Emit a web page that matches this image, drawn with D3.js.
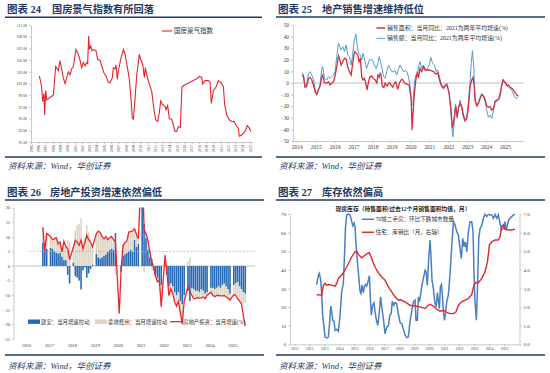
<!DOCTYPE html>
<html><head><meta charset="utf-8">
<script src="https://cdn.jsdelivr.net/npm/d3@7"></script>
<style>body{margin:0;background:#fff}svg{display:block}</style>
</head><body>
<svg id="c" width="550" height="373"></svg>
<script>
// ---------- Panel 24: 国房景气指数 ----------
const climateYears = [1995,1996,1997,1998,1999,2000,2001,2002,2003,2004,2005,2006,2007,2008,2009,2010,2011,2012,2013,2014,2015,2016,2017,2018,2019,2020,2021,2022,2023,2024,2025];
const climateTicks = [91,93,95,97,99,101,103,105,107,109,111];
const climateIndex = [[1996.14,102.3],[1996.32,101.3],[1996.46,100.4],[1996.60,97.9],[1996.78,99.3],[1996.87,95.6],[1997.01,99.8],[1997.15,98.2],[1997.60,98.6],[1998.06,99.0],[1998.38,103.9],[1998.74,103.2],[1998.97,104.9],[1999.20,103.5],[1999.43,101.9],[1999.66,101.0],[1999.89,102.0],[2000.11,103.0],[2000.34,102.5],[2000.57,103.5],[2000.80,103.9],[2001.16,106.8],[2001.48,106.0],[2001.71,105.0],[2001.94,103.7],[2002.17,104.6],[2002.40,104.0],[2002.63,104.6],[2002.76,104.4],[2002.90,109.1],[2003.00,106.8],[2003.17,107.4],[2003.36,106.6],[2003.63,106.8],[2003.90,106.6],[2004.13,105.1],[2004.45,105.0],[2004.68,104.0],[2005.00,102.8],[2005.27,102.3],[2005.59,101.2],[2005.82,101.1],[2006.14,102.0],[2006.28,103.7],[2006.51,103.5],[2006.64,104.2],[2006.83,101.7],[2006.96,103.1],[2007.28,105.1],[2007.65,106.8],[2007.88,106.0],[2008.24,103.5],[2008.47,101.7],[2008.70,98.3],[2008.88,95.1],[2009.02,94.9],[2009.25,98.3],[2009.47,102.3],[2009.84,106.0],[2010.02,105.1],[2010.30,104.3],[2010.53,102.0],[2010.66,103.7],[2010.84,102.5],[2011.16,101.1],[2011.53,99.7],[2011.85,96.5],[2012.08,94.8],[2012.35,94.5],[2012.58,96.0],[2012.76,98.0],[2013.04,97.4],[2013.36,97.1],[2013.49,96.5],[2013.72,97.2],[2013.95,95.0],[2014.27,94.9],[2014.50,93.9],[2014.73,92.8],[2014.95,92.8],[2015.18,93.6],[2015.46,93.5],[2015.68,100.4],[2015.96,100.7],[2016.32,100.9],[2016.78,101.2],[2017.24,101.5],[2017.69,101.8],[2018.06,102.2],[2018.38,102.0],[2018.52,100.9],[2018.84,101.5],[2019.29,101.5],[2019.52,101.2],[2019.70,97.6],[2019.98,99.8],[2020.35,100.4],[2020.66,101.5],[2020.98,101.2],[2021.35,100.5],[2021.53,97.4],[2021.81,95.6],[2022.17,94.8],[2022.49,94.5],[2022.81,94.5],[2023.08,93.9],[2023.40,93.3],[2023.54,92.0],[2023.86,92.2],[2024.18,92.6],[2024.41,93.0],[2024.63,93.8],[2024.91,93.4],[2025.14,92.8]];

// ---------- Panel 25: 销售增速 ----------
const salesYears = [2014,2015,2016,2017,2018,2019,2020,2021,2022,2023,2024,2025];
const salesTicks = [-50,-40,-30,-20,-10,0,10,20,30,40,50];
const salesArea = [[2014.26,6.9],[2014.35,5.5],[2014.44,-3.7],[2014.53,-2.6],[2014.62,4],[2014.70,4.9],[2014.79,2.6],[2014.88,-1.7],[2014.97,-7.5],[2015.06,-9.8],[2015.14,-6],[2015.23,-2.6],[2015.32,5.5],[2015.37,6.9],[2015.46,0.3],[2015.58,0],[2015.67,1.1],[2015.76,-1.7],[2015.85,0],[2015.94,1.1],[2016.02,6],[2016.11,14],[2016.20,23.3],[2016.25,21.3],[2016.34,15.5],[2016.43,18.4],[2016.52,21.3],[2016.61,20.4],[2016.69,14],[2016.78,9.8],[2016.87,6.9],[2016.94,15.5],[2017.05,27],[2017.13,26],[2017.22,24],[2017.29,18.4],[2017.36,21.3],[2017.43,4.9],[2017.50,2.6],[2017.57,4],[2017.64,0.3],[2017.71,-6],[2017.79,1.1],[2017.87,5.5],[2017.96,6],[2018.05,4],[2018.14,2.6],[2018.23,0],[2018.28,6.9],[2018.35,4.9],[2018.40,8.3],[2018.45,6.9],[2018.52,-3.2],[2018.60,-3.7],[2018.67,0],[2018.77,-2.6],[2018.88,0.3],[2018.98,-1.7],[2019.07,-3.7],[2019.16,0],[2019.23,1.1],[2019.33,-5.5],[2019.42,0],[2019.51,2.6],[2019.58,3.2],[2019.69,0],[2019.81,-0.9],[2019.93,-1.7],[2020.04,-13.2],[2020.09,-40.5],[2020.14,-26],[2020.21,-8.9],[2020.29,3.2],[2020.36,8.9],[2020.43,5.5],[2020.51,12.6],[2020.60,9.8],[2020.69,14],[2020.78,11.2],[2020.87,11.2],[2020.99,11.2],[2021.09,10.6],[2021.22,9.8],[2021.34,7.8],[2021.45,8.6],[2021.54,2.6],[2021.62,-1.7],[2021.73,-4.6],[2021.83,-2.6],[2021.92,-1.7],[2021.98,-4.6],[2022.05,-9.5],[2022.15,-23.3],[2022.22,-39],[2022.31,-30.5],[2022.40,-19.8],[2022.47,-29],[2022.54,-21.8],[2022.63,-17.5],[2022.71,-20.4],[2022.80,-27.6],[2022.89,-32.5],[2022.98,-30.5],[2023.07,-20.4],[2023.15,-3.2],[2023.24,2.6],[2023.31,4.9],[2023.37,-3.2],[2023.42,-14.7],[2023.51,-19.8],[2023.60,-17.5],[2023.68,-13.2],[2023.77,-10.3],[2023.86,-11.2],[2023.95,-14.7],[2024.03,-19.8],[2024.12,-21],[2024.21,-20.4],[2024.30,-23.3],[2024.39,-21.8],[2024.48,-16.1],[2024.56,-14.7],[2024.65,-14.1],[2024.74,-8.9],[2024.83,-1.7],[2024.90,2.6],[2024.96,1.1],[2025.04,0],[2025.11,-2.6],[2025.18,-1.7],[2025.27,-3.7],[2025.36,-4.6],[2025.44,-6],[2025.53,-8.3],[2025.62,-10.3],[2025.71,-11.2]];
const salesAmount = [[2014.26,8.9],[2014.35,7.8],[2014.44,-3.7],[2014.53,0],[2014.62,8.3],[2014.70,9.8],[2014.79,6.9],[2014.88,2.6],[2014.97,-5.5],[2015.06,-10.3],[2015.14,-5.5],[2015.23,-1.7],[2015.32,12.6],[2015.37,14],[2015.46,4],[2015.58,2.6],[2015.67,5.5],[2015.76,4],[2015.85,5.5],[2015.94,6.9],[2016.02,9.8],[2016.11,22.7],[2016.20,34.2],[2016.25,32.8],[2016.34,28.4],[2016.43,31.3],[2016.52,27],[2016.61,32.8],[2016.69,24.1],[2016.78,22.7],[2016.87,15.5],[2016.94,22.7],[2017.01,34.2],[2017.12,42.2],[2017.19,32.8],[2017.26,25.6],[2017.35,24.1],[2017.43,19.8],[2017.50,25.6],[2017.61,18.4],[2017.68,12.6],[2017.75,15.5],[2017.84,20.4],[2017.93,19.8],[2018.01,19.8],[2018.10,15.5],[2018.19,12.6],[2018.26,15.5],[2018.35,22.7],[2018.42,18.4],[2018.49,14],[2018.58,5.5],[2018.67,4],[2018.75,9.8],[2018.84,15.5],[2018.93,12.6],[2019.02,9.8],[2019.11,9.8],[2019.19,10.6],[2019.28,6.9],[2019.37,11.8],[2019.46,15.5],[2019.55,12.6],[2019.63,9.8],[2019.72,10.6],[2019.81,9.8],[2019.90,5.5],[2019.99,-3.2],[2020.07,-19],[2020.14,-17.5],[2020.21,0],[2020.29,6.9],[2020.36,5.5],[2020.43,14],[2020.51,18.4],[2020.60,12.6],[2020.69,15.5],[2020.78,12.6],[2020.87,11.2],[2020.99,15.5],[2021.08,22.1],[2021.17,17],[2021.27,15.5],[2021.36,9.8],[2021.45,11.2],[2021.54,4.9],[2021.62,0],[2021.73,-3.7],[2021.83,-1.7],[2021.92,0],[2021.98,-3.7],[2022.05,-8.9],[2022.15,-29],[2022.24,-46.3],[2022.31,-35.3],[2022.38,-18.1],[2022.47,-30.5],[2022.54,-21],[2022.63,-14.7],[2022.71,-21.8],[2022.80,-30.5],[2022.89,-32.5],[2022.98,-29],[2023.07,-14.7],[2023.14,-1.7],[2023.21,17],[2023.28,27.9],[2023.35,12.6],[2023.42,-16.1],[2023.51,-19],[2023.60,-16.1],[2023.68,-12.4],[2023.77,-8.9],[2023.86,-11.2],[2023.95,-16.1],[2024.03,-23.3],[2024.12,-29.6],[2024.21,-27.6],[2024.30,-30.5],[2024.39,-23.3],[2024.48,-14.7],[2024.56,-16.1],[2024.65,-14.7],[2024.74,-11.8],[2024.83,-1.7],[2024.90,3.2],[2024.96,1.1],[2025.04,-1.7],[2025.11,-2.6],[2025.18,-3.7],[2025.27,-4.6],[2025.36,-6.6],[2025.44,-9.5],[2025.53,-12.4],[2025.62,-13.2],[2025.71,-11.8]];

// ---------- Panel 26: 房地产投资 ----------
const invYears = [2016,2017,2018,2019,2020,2021,2022,2023,2024,2025];
const invTicks = [-25,-20,-15,-10,-5,0,5,10,15,20];
const invMonths = ["2016-10","2016-11","2016-12",
"2017-02","2017-03","2017-04","2017-05","2017-06","2017-07","2017-08","2017-09","2017-10","2017-11","2017-12",
"2018-02","2018-03","2018-04","2018-05","2018-06","2018-07","2018-08","2018-09","2018-10","2018-11","2018-12",
"2019-02","2019-03","2019-04","2019-05","2019-06","2019-07","2019-08","2019-09","2019-10","2019-11","2019-12",
"2020-02","2020-03","2020-04","2020-05","2020-06","2020-07","2020-08","2020-09","2020-10","2020-11","2020-12",
"2021-02","2021-03","2021-04","2021-05","2021-06","2021-07","2021-08","2021-09","2021-10","2021-11","2021-12",
"2022-02","2022-03","2022-04","2022-05","2022-06","2022-07","2022-08","2022-09","2022-10","2022-11","2022-12",
"2023-02","2023-03","2023-04","2023-05","2023-06","2023-07","2023-08","2023-09","2023-10","2023-11","2023-12",
"2024-02","2024-03","2024-04","2024-05","2024-06","2024-07","2024-08","2024-09","2024-10","2024-11","2024-12",
"2025-02","2025-03","2025-04","2025-05","2025-06","2025-07","2025-08"];
const invBuild = [7.9,5.4,5.8,
6.2,6.0,5.2,4.6,4.3,4.5,3.2,2.0,2.0,-3.0,-6.0,
1.2,-3.5,-4.0,-5.0,-8.0,-1.5,-0.5,-4.0,-2.5,-1.0,0.5,
4.2,3.0,2.6,3.0,3.5,4.0,4.8,5.5,6.0,5.5,11.3,
0,-2.0,3.5,4.0,4.5,5.0,5.5,5.0,9.0,6.5,7.5,
25.0,14.5,9.5,5.5,3.0,2.5,-1.5,-3.0,-4.0,-5.0,-6.5,
0.5,-3.0,-7.0,-6.0,-7.0,-9.0,-10.0,-9.0,-12.0,-13.0,-10.0,
-8.5,-12.0,-7.5,-8.0,-8.5,-8.5,-9.0,-8.0,-8.5,-9.5,-9.0,
-7.5,-7.5,-8.0,-7.5,-7.0,-7.5,-6.5,-6.0,-7.0,-8.0,-9.5,
-6.5,-6.0,-5.5,-7.0,-8.0,-9.0,-9.5];
const invLand = [5.4,-0.3,5.3,
3.9,3.0,4.1,5.1,3.3,3.7,1.6,6.5,4.7,8.9,8.2,
5.3,12.3,14.0,14.5,16.5,9.0,10.0,14.0,11.5,9.2,6.0,
6.9,8.9,9.0,7.1,5.8,6.1,4.2,4.2,4.1,3.5,-3.0,
0,0.9,3.5,4.1,4.0,6.7,6.3,7.0,3.7,4.4,1.8,
13.3,-2.0,1.6,3.3,2.0,-1.0,1.0,-0.5,-1.4,0,-7.4,
3.2,0.6,-3.1,-1.8,-2.4,-3.3,-3.8,-3.1,-4.0,-6.9,-2.2,
1.5,3.1,-2.5,-3.2,-2.7,-2.3,-2.0,-2.9,-2.1,-1.7,-1.0,
-1.5,-2.5,-2.5,-2.6,-3.1,-2.7,-3.7,-4.1,-3.6,-3.0,-2.2,
-3.3,-4.0,-5.8,-5.0,-4.9,-4.0,-3.0];
const invTotal = [13.3,5.1,11.1,
10.1,9.0,9.3,9.7,7.6,8.2,4.8,8.5,6.7,5.9,2.2,
6.5,8.8,8.2,7.1,8.8,5.9,7.9,10.5,9.0,8.2,6.5,
11.1,11.9,11.6,10.1,9.3,10.1,9.0,9.7,10.1,9.0,8.3,
-16.3,-1.1,7.0,8.1,8.5,11.7,11.8,12.0,12.7,10.9,9.3,
38.3,12.5,11.1,8.8,5.0,1.5,-0.5,-3.5,-5.4,-5.0,-13.9,
3.7,-2.4,-10.1,-7.8,-9.4,-12.3,-13.8,-12.1,-16.0,-19.9,-12.2,
-7.0,-8.9,-10.0,-11.2,-11.2,-10.8,-11.0,-10.9,-10.6,-11.2,-10.0,
-9.0,-10.0,-10.5,-10.1,-10.1,-10.2,-10.2,-10.1,-10.6,-11.0,-11.7,
-9.8,-10.0,-11.3,-12.0,-12.9,-17.0,-20.5];
const invReference = 5;

// ---------- Panel 27: 库存 ----------
const stockYears = [2011,2012,2013,2014,2015,2016,2017,2018,2019,2020,2021,2022,2023,2024,2025];
const stockLeftTicks = [0,10,20,30,40,50,60,70];
const stockRightTicks = [0,1,2,3,4,5,6,7];
const citiesDown = [[2012.49,32.1],[2012.60,36.8],[2012.67,38.1],[2012.76,34.5],[2012.83,26.4],[2012.89,15.6],[2012.98,9.3],[2013.05,3.9],[2013.16,3.4],[2013.27,3.9],[2013.34,10.2],[2013.43,20.5],[2013.49,17.8],[2013.56,12.9],[2013.65,12.4],[2013.72,7.5],[2013.83,8.1],[2013.94,7.0],[2014.05,15.6],[2014.16,28.2],[2014.27,32.7],[2014.34,46.1],[2014.41,62.3],[2014.50,69.5],[2014.61,70],[2014.72,69.5],[2014.83,65.9],[2014.90,63.7],[2014.99,65.0],[2015.05,63.2],[2015.12,53.3],[2015.21,44.3],[2015.30,36.3],[2015.39,28.2],[2015.45,27.3],[2015.52,31.8],[2015.61,27.8],[2015.67,30.9],[2015.76,32.1],[2015.83,31.4],[2015.94,34.5],[2016.01,36.8],[2016.07,25.5],[2016.14,15.6],[2016.23,21.0],[2016.32,22.3],[2016.39,17.4],[2016.48,12.9],[2016.57,10.2],[2016.65,15.6],[2016.76,25.5],[2016.85,19.2],[2016.97,12.0],[2017.05,5.7],[2017.17,9.3],[2017.28,9.9],[2017.37,15.6],[2017.46,16.5],[2017.54,23.2],[2017.63,21.0],[2017.72,22.4],[2017.83,21.9],[2017.95,16.0],[2018.06,11.7],[2018.17,11.1],[2018.28,8.0],[2018.39,5.0],[2018.50,3.6],[2018.61,3.9],[2018.72,12.0],[2018.83,17.4],[2018.95,22.8],[2019.06,23.7],[2019.12,12.9],[2019.21,12.9],[2019.28,25.5],[2019.35,22.8],[2019.44,27.3],[2019.52,31.8],[2019.61,35.4],[2019.73,39.8],[2019.79,39.0],[2019.88,31.8],[2019.97,46.1],[2020.06,56.0],[2020.13,46.1],[2020.19,34.5],[2020.28,30.0],[2020.37,22.8],[2020.46,20.1],[2020.55,27.8],[2020.62,22.8],[2020.68,19.2],[2020.75,30.9],[2020.82,32.1],[2020.88,26.4],[2020.95,17.4],[2021.02,12.9],[2021.10,17.4],[2021.17,22.8],[2021.28,26.4],[2021.39,37.2],[2021.51,53.3],[2021.62,65.9],[2021.73,64.1],[2021.84,60.5],[2021.95,58.7],[2022.06,51.5],[2022.15,46.1],[2022.24,56.9],[2022.33,52.4],[2022.42,55.1],[2022.51,49.7],[2022.62,60.5],[2022.73,65.9],[2022.84,65.9],[2022.93,60.5],[2022.99,39.0],[2023.06,22.8],[2023.15,12.9],[2023.22,28.2],[2023.31,56.9],[2023.40,62.3],[2023.51,63.7],[2023.62,67.7],[2023.73,69.8],[2023.84,68.6],[2023.95,69.8],[2024.06,69.5],[2024.18,69.5],[2024.29,67.7],[2024.40,69.8],[2024.51,67.7],[2024.62,69.5],[2024.73,65.0],[2024.84,61.4],[2024.95,62.3],[2025.06,65.9],[2025.13,61.4],[2025.22,64.1],[2025.31,66.8],[2025.40,67.7],[2025.51,68.6],[2025.62,69.5],[2025.73,69.8]];
const stockRatio = [[2012.49,2.64],[2012.67,2.67],[2012.83,2.64],[2012.94,3.18],[2013.05,3.27],[2013.16,3.18],[2013.27,3.21],[2013.49,3.18],[2013.72,3.12],[2013.83,3.27],[2013.94,3.54],[2014.16,3.72],[2014.38,3.98],[2014.61,4.34],[2014.83,4.70],[2015.05,4.97],[2015.16,5.01],[2015.27,4.83],[2015.50,4.65],[2015.67,4.76],[2015.90,4.88],[2016.01,4.92],[2016.12,4.70],[2016.28,4.34],[2016.50,3.98],[2016.72,3.72],[2016.94,3.54],[2017.05,3.45],[2017.28,3.09],[2017.50,2.82],[2017.72,2.55],[2017.95,2.37],[2018.06,2.40],[2018.39,2.28],[2018.72,2.10],[2019.06,2.06],[2019.39,2.01],[2019.73,1.92],[2019.95,2.10],[2020.06,2.15],[2020.28,2.06],[2020.50,1.88],[2020.73,1.78],[2020.95,1.83],[2021.17,1.71],[2021.39,1.65],[2021.62,1.65],[2021.79,1.74],[2021.95,2.10],[2022.17,2.28],[2022.40,2.37],[2022.62,2.46],[2022.84,2.67],[2022.99,3.18],[2023.13,3.32],[2023.29,3.32],[2023.51,3.54],[2023.73,3.90],[2023.89,4.43],[2024.02,5.33],[2024.18,5.51],[2024.40,5.60],[2024.62,5.60],[2024.73,5.78],[2024.84,6.32],[2024.95,6.41],[2025.06,6.19],[2025.29,6.14],[2025.51,6.14],[2025.73,6.19]];

// ---------- drawing ----------
const svg = d3.select('#c');
const CJK = '"Noto Sans CJK SC", sans-serif';
const SERIF = '"Liberation Serif", "Noto Sans CJK SC", serif';
const NAVY = '#1f3864';
const AX = '#a6a6a6';
const TXT = '#404040';

function header(x0, x1, yBase, yRule, num, title, titleX) {
  svg.append('text').attr('x', x0 + 2).attr('y', yBase)
    .attr('font-family', SERIF).attr('font-weight', 'bold').attr('font-size', 10.5)
    .attr('fill', NAVY).text('图表 ' + num);
  svg.append('text').attr('x', titleX).attr('y', yBase)
    .attr('font-family', CJK).attr('font-weight', 'bold').attr('font-size', 10.2)
    .attr('fill', NAVY).text(title);
  svg.append('line').attr('x1', x0).attr('x2', x1).attr('y1', yRule).attr('y2', yRule)
    .attr('stroke', NAVY).attr('stroke-width', 1.4);
}
function footer(x0, x1, yRule, yBase) {
  svg.append('line').attr('x1', x0).attr('x2', x1).attr('y1', yRule).attr('y2', yRule)
    .attr('stroke', NAVY).attr('stroke-width', 1.4);
  svg.append('text').attr('x', x0 + 3).attr('y', yBase)
    .attr('font-family', SERIF).attr('font-style', 'italic').attr('font-size', 8.5)
    .attr('fill', NAVY).text('资料来源：Wind，华创证券');
}
function styleAxis(g, size) {
  g.attr('font-size', size).attr('font-family', SERIF);
  g.selectAll('text').attr('fill', TXT);
  g.selectAll('line').attr('stroke', AX).attr('stroke-width', 0.6);
  g.select('.domain').attr('stroke', AX).attr('stroke-width', 0.6);
}

// Panel 24
header(5, 262, 13, 17.3, '24', '国房景气指数有所回落', 52);
footer(5, 262, 157, 168.5);
{
  const x = d3.scaleLinear().domain([1995, 2025.41]).range([31, 253]);
  const y = d3.scaleLinear().domain([91, 111]).range([142, 25]);
  const gy = svg.append('g').attr('transform', 'translate(31,0)')
    .call(d3.axisLeft(y).tickValues(climateTicks).tickFormat(d3.format('.2f')).tickSize(2).tickSizeOuter(0).tickPadding(2));
  styleAxis(gy, 3.8);
  const gx = svg.append('g').attr('transform', 'translate(0,142)')
    .call(d3.axisBottom(x).tickValues(climateYears).tickFormat(d3.format('d')).tickSize(2).tickSizeOuter(0));
  styleAxis(gx, 3.6);
  gx.selectAll('text').attr('transform', 'rotate(-90)').attr('text-anchor', 'end')
    .attr('x', -3).attr('y', 0).attr('dy', '0.35em');
  svg.append('path').datum(climateIndex)
    .attr('d', d3.line().x(d => x(d[0])).y(d => y(d[1])))
    .attr('fill', 'none').attr('stroke', '#e3262b').attr('stroke-width', 1.1);
  svg.append('line').attr('x1', 162).attr('x2', 172).attr('y1', 31).attr('y2', 31)
    .attr('stroke', '#e3262b').attr('stroke-width', 1.1);
  svg.append('text').attr('x', 174).attr('y', 33.2).attr('font-family', CJK).attr('font-size', 6.5)
    .attr('fill', '#333').text('国房景气指数');
}

// Panel 25
header(276, 545, 13, 17, '25', '地产销售增速维持低位', 322);
footer(276, 545, 157, 168.5);
{
  const x = d3.scaleLinear().domain([2013.8, 2026.0]).range([293, 524]);
  const y = d3.scaleLinear().domain([-50, 50]).range([141, 25]);
  const gy = svg.append('g').attr('transform', 'translate(293,0)')
    .call(d3.axisLeft(y).tickValues(salesTicks).tickSize(2).tickSizeOuter(0).tickPadding(2));
  styleAxis(gy, 5.3);
  const gx = svg.append('g').attr('transform', 'translate(0,141)')
    .call(d3.axisBottom(x).tickValues(salesYears).tickFormat(d3.format('d')).tickSize(2).tickSizeOuter(0).tickPadding(2));
  styleAxis(gx, 5.5);
  svg.append('line').attr('x1', 293).attr('x2', 524).attr('y1', y(0)).attr('y2', y(0))
    .attr('stroke', AX).attr('stroke-width', 0.7);
  const line = d3.line().x(d => x(d[0])).y(d => y(d[1]));
  svg.append('path').datum(salesAmount).attr('d', line)
    .attr('fill', 'none').attr('stroke', '#4d9fd3').attr('stroke-width', 1.0);
  svg.append('path').datum(salesArea).attr('d', line)
    .attr('fill', 'none').attr('stroke', '#d42f3c').attr('stroke-width', 1.3);
  const leg = [['#d42f3c', 1.5, 28, '销售面积：当月同比：2021为两年平均增速(%)'],
               ['#4d9fd3', 1.0, 38.3, '销售额：当月同比：2021为两年平均增速(%)']];
  leg.forEach(([c, w, yy, t]) => {
    svg.append('line').attr('x1', 376.5).attr('x2', 385).attr('y1', yy).attr('y2', yy)
      .attr('stroke', c).attr('stroke-width', w);
    svg.append('text').attr('x', 387).attr('y', yy + 2.1).attr('font-family', SERIF)
      .attr('font-size', 5.9).attr('fill', '#333').text(t);
  });
}

// Panel 26
header(5, 264, 195.5, 200, '26', '房地产投资增速依然偏低', 50);
footer(5, 264, 355, 368.5);
{
  const x = d3.scaleLinear().domain([2015.51, 2026.05]).range([13.5, 255]);
  const y = d3.scaleLinear().domain([-25, 20]).range([339, 207.6]);
  svg.append('defs').append('clipPath').attr('id', 'clip26').append('rect')
    .attr('x', 13.5).attr('y', 207.6).attr('width', 241.5).attr('height', 131.4);
  const gy = svg.append('g').attr('transform', 'translate(13.5,0)')
    .call(d3.axisLeft(y).tickValues(invTicks).tickSize(2).tickSizeOuter(0).tickPadding(1.5));
  styleAxis(gy, 4.3);
  svg.append('g').selectAll('text').data(invYears).join('text')
    .attr('x', d => x(d) + 2).attr('y', 346.6).attr('text-anchor', 'middle')
    .attr('font-family', SERIF).attr('font-size', 4.6).attr('fill', TXT).text(d => d);
  const dec = s => { const [a, b] = s.split('-').map(Number); return a + (b - 1) / 12 + 1 / 24; };
  const rows = invMonths.map((m, i) => ({ t: dec(m), build: invBuild[i], land: invLand[i], total: invTotal[i] }));
  const stack = d3.stack().keys(['build', 'land']).offset(d3.stackOffsetDiverging)(rows);
  const colors = { build: '#2468b6', land: '#dcd5c4' };
  const bw = (x(2017) - x(2016)) / 12 * 0.82;
  const plot = svg.append('g').attr('clip-path', 'url(#clip26)');
  plot.append('line').attr('x1', 13.5).attr('x2', 255).attr('y1', y(0)).attr('y2', y(0))
    .attr('stroke', AX).attr('stroke-width', 0.7);
  stack.forEach(s => {
    plot.append('g').attr('fill', colors[s.key]).selectAll('rect').data(s).join('rect')
      .attr('x', d => x(d.data.t) - bw / 2).attr('width', bw)
      .attr('y', d => y(Math.max(d[0], d[1])))
      .attr('height', d => Math.abs(y(d[0]) - y(d[1])));
  });
  plot.append('line').attr('x1', x(2016.2)).attr('x2', 255).attr('y1', y(invReference)).attr('y2', y(invReference))
    .attr('stroke', '#f0b43c').attr('stroke-width', 0.8).attr('stroke-dasharray', '2,1.5');
  plot.append('path').datum(rows)
    .attr('d', d3.line().x(d => x(d.t)).y(d => y(d.total)))
    .attr('fill', 'none').attr('stroke', '#e8262d').attr('stroke-width', 1.3);
  const ly = 321.7;
  svg.append('rect').attr('x', 28).attr('y', ly - 2.2).attr('width', 12).attr('height', 4.4).attr('fill', colors.build);
  svg.append('rect').attr('x', 95).attr('y', ly - 2.2).attr('width', 12).attr('height', 4.4).attr('fill', colors.land);
  svg.append('line').attr('x1', 170).attr('x2', 182).attr('y1', ly).attr('y2', ly).attr('stroke', '#e8262d').attr('stroke-width', 1.3);
  [[41, '建安：当月增速拉动'], [108, '拿地费用：当月增速拉动'], [183, '房地产投资：当月增速(%)']].forEach(([xx, t]) => {
    svg.append('text').attr('x', xx).attr('y', ly + 2).attr('font-family', SERIF)
      .attr('font-size', 5.4).attr('fill', '#333').text(t);
  });
}

// Panel 27
header(276, 545, 195.5, 200, '27', '库存依然偏高', 322);
footer(276, 545, 355, 368.5);
{
  const x = d3.scaleLinear().domain([2010.71, 2026.03]).range([290, 519.5]);
  const yl = d3.scaleLinear().domain([0, 70]).range([344.3, 214]);
  const yr = d3.scaleLinear().domain([0, 7]).range([344.3, 214]);
  const gl = svg.append('g').attr('transform', 'translate(290,0)')
    .call(d3.axisLeft(yl).tickValues(stockLeftTicks).tickSize(2).tickSizeOuter(0).tickPadding(2));
  styleAxis(gl, 5);
  const gr = svg.append('g').attr('transform', 'translate(519.5,0)')
    .call(d3.axisRight(yr).tickValues(stockRightTicks).tickSize(2).tickSizeOuter(0).tickPadding(2));
  styleAxis(gr, 5);
  const gx = svg.append('g').attr('transform', 'translate(0,344.3)')
    .call(d3.axisBottom(x).tickValues(stockYears).tickFormat(d3.format('d')).tickSize(2).tickSizeOuter(0).tickPadding(1.2));
  styleAxis(gx, 3.8);
  svg.append('path').datum(citiesDown)
    .attr('d', d3.line().x(d => x(d[0])).y(d => yl(d[1])))
    .attr('fill', 'none').attr('stroke', '#4a7fc1').attr('stroke-width', 1.5);
  svg.append('path').datum(stockRatio)
    .attr('d', d3.line().x(d => x(d[0])).y(d => yr(d[1])))
    .attr('fill', 'none').attr('stroke', '#e2262a').attr('stroke-width', 1.4);
  svg.append('text').attr('x', 403).attr('y', 211).attr('text-anchor', 'middle')
    .attr('font-family', SERIF).attr('font-weight', 'bold').attr('font-size', 5.8).attr('fill', '#222')
    .text('现房库存（待售面积/过去12个月销售面积均值，月）');
  [['#4a7fc1', 219.3, '70城二手房：环比下跌城市数量'], ['#e2262a', 232.3, '住宅：库销比（月，右轴）']].forEach(([c, yy, t]) => {
    svg.append('line').attr('x1', 362).attr('x2', 374).attr('y1', yy).attr('y2', yy)
      .attr('stroke', c).attr('stroke-width', 1.5);
    svg.append('text').attr('x', 375.5).attr('y', yy + 2).attr('font-family', SERIF)
      .attr('font-size', 5.6).attr('fill', '#333').text(t);
  });
}
</script>
</body></html>
